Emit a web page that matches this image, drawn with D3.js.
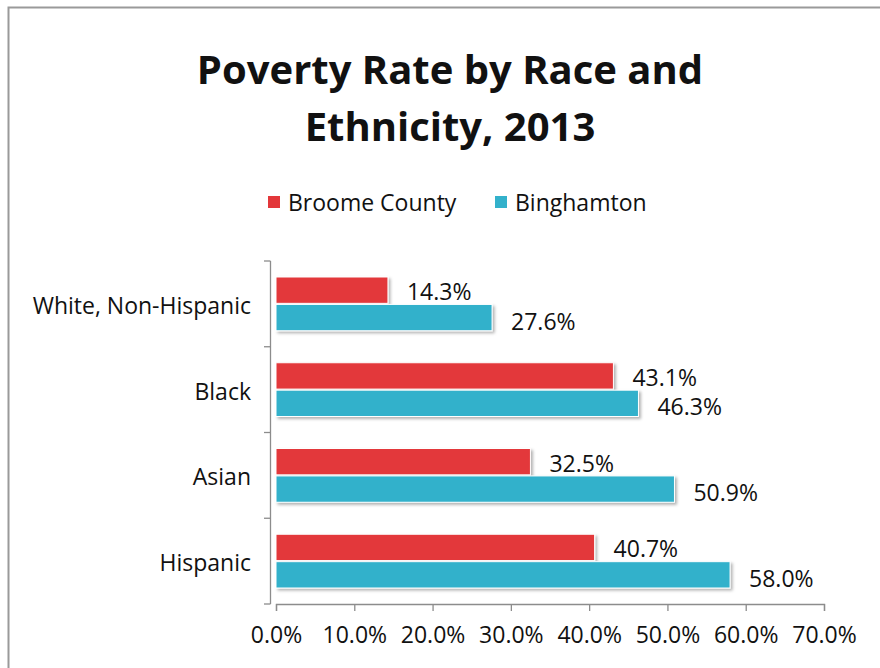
<!DOCTYPE html>
<html>
<head>
<meta charset="utf-8">
<script src="https://cdn.jsdelivr.net/npm/d3@7"></script>
<style>
  html, body { margin: 0; padding: 0; background: #fff; }
  svg { display: block; }
  text { font-family: "Open Sans", "Noto Sans", sans-serif; fill: #111; }
</style>
</head>
<body>
<svg id="chart" width="880" height="668"></svg>
<script>
// Poverty rate by race and ethnicity, 2013
const categories = ["White, Non-Hispanic", "Black", "Asian", "Hispanic"];
const seriesNames = ["Broome County", "Binghamton"];
const broomeCounty = [14.3, 43.1, 32.5, 40.7];
const binghamton = [27.6, 46.3, 50.9, 58.0];
const xTicks = [0, 10, 20, 30, 40, 50, 60, 70];
const colors = ["#E3373A", "#33B1CB"];

const svg = d3.select("#chart");

// outer chart frame
svg.append("rect")
  .attr("x", 8.5).attr("y", 7.5)
  .attr("width", 900).attr("height", 700)
  .attr("fill", "none").attr("stroke", "#9a9a9a").attr("stroke-width", 2);

// title
const title = svg.append("text")
  .attr("text-anchor", "middle")
  .attr("font-weight", "bold")
  .attr("font-size", 40);
title.append("tspan").attr("x", 450).attr("y", 84).text("Poverty Rate by Race and");
title.append("tspan").attr("x", 450).attr("y", 141).text("Ethnicity, 2013");

// legend
const legend = svg.append("g");
const legendItems = [{ x: 268, name: seriesNames[0], color: colors[0] },
                     { x: 495, name: seriesNames[1], color: colors[1] }];
legendItems.forEach(d => {
  legend.append("rect").attr("x", d.x).attr("y", 196).attr("width", 12).attr("height", 12)
    .attr("fill", d.color);
  legend.append("text").attr("x", d.x + 20).attr("y", 211)
    .attr("font-size", 23).text(d.name);
});

// scales
const x = d3.scaleLinear().domain([0, 70]).range([276, 824]);
const y = d3.scaleBand().domain(categories).range([261, 604]).paddingInner(0).paddingOuter(0);
const inner = d3.scaleBand().domain([0, 1]).range([16, y.bandwidth() - 16]).paddingInner(0.04);

// shadow filter for bars
const defs = svg.append("defs");
const f = defs.append("filter").attr("id", "shadow").attr("x", "-5%").attr("y", "-20%")
  .attr("width", "115%").attr("height", "160%");
f.append("feDropShadow").attr("dx", 2).attr("dy", 2).attr("stdDeviation", 1.5)
  .attr("flood-color", "#000").attr("flood-opacity", 0.3);

// bars
const data = [];
categories.forEach((c, i) => {
  data.push({ cat: c, s: 0, v: broomeCounty[i] });
  data.push({ cat: c, s: 1, v: binghamton[i] });
});

svg.append("g").selectAll("rect").data(data).join("rect")
  .attr("x", x(0))
  .attr("y", d => y(d.cat) + inner(d.s))
  .attr("width", d => x(d.v) - x(0))
  .attr("height", inner.bandwidth())
  .attr("fill", d => colors[d.s])
  .attr("stroke", "#fff").attr("stroke-width", 1)
  .attr("filter", "url(#shadow)");

// value labels
svg.append("g").selectAll("text").data(data).join("text")
  .attr("x", d => x(d.v) + 19)
  .attr("y", d => y(d.cat) + inner(d.s) + inner.bandwidth() / 2 + (d.s ? 12 : 10))
  .attr("font-size", 23)
  .text(d => d.v.toFixed(1) + "%");

// x axis
const xAxis = d3.axisBottom(x).tickValues(xTicks).tickSize(7).tickPadding(16)
  .tickFormat(d => d.toFixed(1) + "%");
const gx = svg.append("g").attr("transform", "translate(0,604)").call(xAxis);
gx.select(".domain").attr("stroke", "#8c8c8c").attr("stroke-width", 1.3);
gx.selectAll(".tick line").attr("stroke", "#8c8c8c").attr("stroke-width", 1.3);
gx.selectAll(".tick text").attr("font-size", 23).attr("fill", "#111")
  .attr("font-family", "Open Sans, sans-serif");

// y axis: category tick marks at band boundaries
const gy = svg.append("g");
gy.append("line").attr("x1", 270.5).attr("x2", 270.5).attr("y1", 261).attr("y2", 604)
  .attr("stroke", "#8c8c8c").attr("stroke-width", 1.3);
const bounds = categories.map(c => y(c)).concat([604]);
gy.selectAll(".yt").data(bounds).join("line")
  .attr("x1", 264).attr("x2", 270.5)
  .attr("y1", d => d).attr("y2", d => d)
  .attr("stroke", "#8c8c8c").attr("stroke-width", 1.3);
gy.selectAll(".yl").data(categories).join("text")
  .attr("x", 251)
  .attr("y", d => y(d) + y.bandwidth() / 2 + 10)
  .attr("text-anchor", "end")
  .attr("font-size", 23)
  .text(d => d);
</script>
</body>
</html>
